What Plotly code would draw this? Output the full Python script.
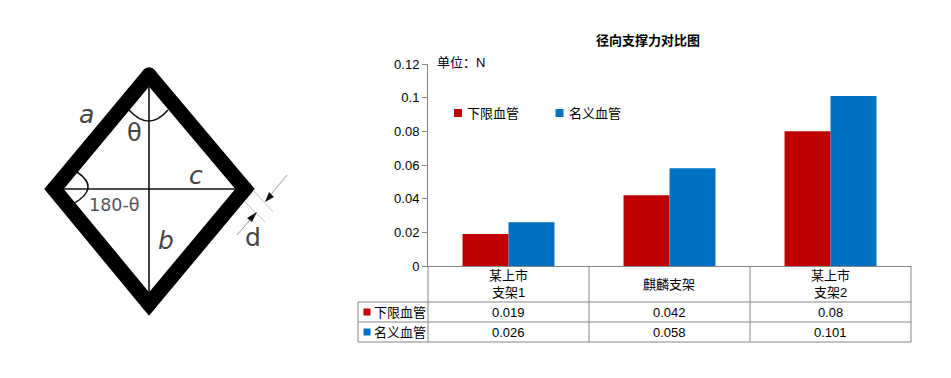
import plotly.graph_objects as go

W, H = 951, 378
FONT = "Liberation Sans, Noto Sans CJK SC"
DIAG = "DejaVu Sans"
GRAY = "#868686"

categories = ["某上市<br>支架1", "麒麟支架", "某上市<br>支架2"]
series_names = ["下限血管", "名义血管"]
lower_values = [0.019, 0.042, 0.08]
nominal_values = [0.026, 0.058, 0.101]
series_colors = ["#C00000", "#0070C0"]
y_ticks = [0, 0.02, 0.04, 0.06, 0.08, 0.1, 0.12]
title_text = "径向支撑力对比图"
unit_text = "单位：N"

# plot box and table grid, in page pixels
plot_left, plot_right, plot_top, plot_bottom = 428, 911, 64, 266
table_left = 358
table_rows = [266, 302, 322, 342]
table_cols = [428, 589, 750, 911]
header_y = 284
row_y = [312, 332]
col_x = [508, 669, 830]
legend_x = [458, 559.5]
legend_y = 113

# rhombus diagram, in page pixels
rhombus_x = [149, 245, 149, 54, 149]
rhombus_y = [75, 189, 304, 189, 75]

fig = go.Figure()
for name, vals, col in zip(series_names, [lower_values, nominal_values], series_colors):
    fig.add_trace(go.Bar(name=name, x=categories, y=vals, marker=dict(color=col, line_width=0)))

fig.add_trace(go.Scatter(x=rhombus_x, y=rhombus_y, mode="lines+markers", xaxis="x2", yaxis="y2", showlegend=False,
                         hoverinfo="skip", line=dict(color="black", width=15),
                         marker=dict(color="black", size=15, line_width=0)))

# table and chart legend keys
fig.add_trace(go.Scatter(x=[367, 367] + legend_x, y=row_y + [legend_y, legend_y], mode="markers",
                         xaxis="x2", yaxis="y2", showlegend=False, hoverinfo="skip",
                         marker=dict(symbol="square", size=[7, 7, 8, 8], color=series_colors * 2,
                                     line_width=0, opacity=1)))

shapes = []
def seg(x0, y0, x1, y1, color=GRAY, width=1):
    shapes.append(dict(type="line", xref="x2", yref="y2", x0=x0, y0=y0, x1=x1, y1=y1,
                       line=dict(color=color, width=width), layer="above"))

# table grid
seg(plot_right, table_rows[0], plot_right, table_rows[-1])
for r in table_rows[1:]:
    seg(table_left, r, plot_right, r)
for c in table_cols[:-1]:
    seg(c, table_rows[0], c, table_rows[-1])
seg(table_left, table_rows[1], table_left, table_rows[-1])

# rhombus diagonals
seg(149, 85, 149, 295, "#111111", 1.6)
seg(63, 189, 236, 189, "#111111", 1.6)

# angle arcs
for p in ["M129,110 Q149,132 168,110", "M77,172 Q101,188 73,204"]:
    shapes.append(dict(type="path", xref="x2", yref="y2", path=p, line=dict(color="#111111", width=1.6)))

# thickness dimension
seg(245, 202, 265, 222, "#c4c4c4", 1)
seg(253, 190, 273, 212, "#c4c4c4", 1)
seg(287, 175, 268, 198, "#999999", 1)
seg(237, 235, 255, 214, "#999999", 1)
for p in ["M265,202 L269,192 L274,197 Z", "M257,212 L252,222 L247,218 Z"]:
    shapes.append(dict(type="path", xref="x2", yref="y2", path=p, fillcolor="#111111", line=dict(width=0)))

def label(x, y, text, size=13, font=FONT, color="black", **kw):
    return dict(x=x, y=y, xref="x2", yref="y2", text=text, showarrow=False,
                font=dict(family=font, size=size, color=color), **kw)

annotations = [
    label(648, 40, f"<b>{title_text}</b>", 13),
    label(435, 62, unit_text, 13, xanchor="left"),
    label(372, row_y[0], series_names[0], 13, xanchor="left"),
    label(372, row_y[1], series_names[1], 13, xanchor="left"),
    label(465, legend_y, series_names[0], 13, xanchor="left"),
    label(567, legend_y, series_names[1], 13, xanchor="left"),
    label(86, 114, "<i>a</i>", 25, DIAG, "#444444"),
    label(134, 133, "θ", 24, DIAG, "#444444"),
    label(114, 205, "180-θ", 17.5, DIAG, "#555555"),
    label(196, 175, "<i>c</i>", 25, DIAG, "#444444"),
    label(166, 240, "<i>b</i>", 25, DIAG, "#444444"),
    label(253, 237, "d", 25, DIAG, "#444444"),
]
for cat, x in zip(categories, col_x):
    annotations.append(label(x, header_y, cat, 13))
for vals, y in zip([lower_values, nominal_values], row_y):
    for v, x in zip(vals, col_x):
        annotations.append(label(x, y, str(v), 13))

fig.update_layout(
    width=W, height=H, margin=dict(l=0, r=0, t=0, b=0, autoexpand=False),
    paper_bgcolor="white", plot_bgcolor="rgba(0,0,0,0)",
    font=dict(family=FONT, size=13, color="black"),
    barmode="group", bargap=0.429, bargroupgap=0,
    showlegend=False,
    xaxis=dict(domain=[plot_left / W, plot_right / W], anchor="y", showgrid=False, zeroline=False,
               showline=True, linecolor=GRAY, ticks="", showticklabels=False),
    yaxis=dict(domain=[1 - plot_bottom / H, 1 - plot_top / H], anchor="x", range=[0, 0.12], showgrid=False,
               zeroline=False, showline=True, linecolor=GRAY, ticks="outside", ticklen=5, tickcolor=GRAY,
               tickvals=y_ticks, ticktext=[str(t) for t in y_ticks], tickfont=dict(size=13)),
    xaxis2=dict(domain=[0, 1], range=[0, W], visible=False, anchor="y2", fixedrange=True),
    yaxis2=dict(domain=[0, 1], range=[H, 0], visible=False, anchor="x2", fixedrange=True),
    shapes=shapes, annotations=annotations,
)

fig.write_html("out.html", config={"displayModeBar": False},
               post_script="document.body.style.margin='0';")
